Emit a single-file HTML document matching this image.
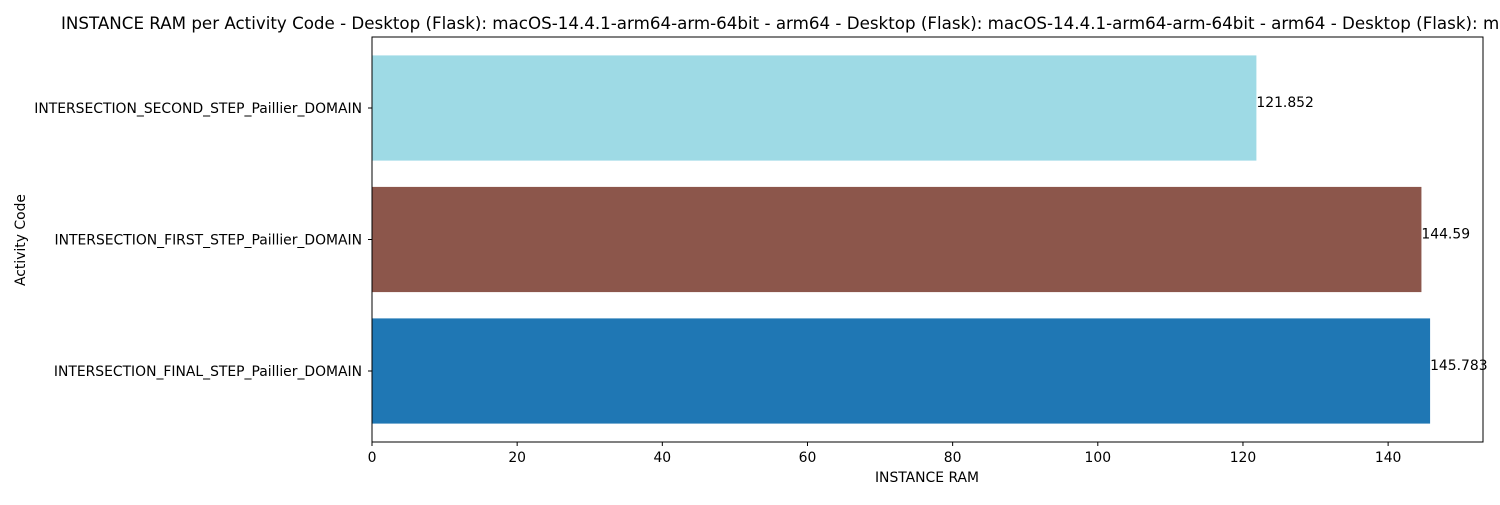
<!DOCTYPE html>
<html><head><meta charset="utf-8"><style>
body{margin:0;background:#fff;}
svg text{font-family:"DejaVu Sans","Liberation Sans",sans-serif;}
</style></head><body>
<svg width="1500" height="500" xmlns="http://www.w3.org/2000/svg">
<rect width="1500" height="500" fill="#fff"/>
<text x="61" y="29" font-size="16.7">INSTANCE RAM per Activity Code - Desktop (Flask): macOS-14.4.1-arm64-arm-64bit - arm64 - Desktop (Flask): macOS-14.4.1-arm64-arm-64bit - arm64 - Desktop (Flask): macOS-14.4.1-arm64-arm-64bit - arm64</text>
<g id="plot"></g>
<rect x="372" y="37" width="1111" height="405" fill="none" stroke="#000" stroke-width="1"/>
<text x="927" y="482" font-size="13.9" text-anchor="middle">INSTANCE RAM</text>
<text transform="translate(25,240) rotate(-90)" font-size="13.9" text-anchor="middle">Activity Code</text>
</svg>
<script>
const categories=["INTERSECTION_FINAL_STEP_Paillier_DOMAIN","INTERSECTION_FIRST_STEP_Paillier_DOMAIN","INTERSECTION_SECOND_STEP_Paillier_DOMAIN"];
const values=[145.783,144.59,121.852];
const colors=["#1f77b4","#8c564b","#9edae5"];
const xTicks=[0,20,40,60,80,100,120,140];
const L=372,R=1483,T=37,B=442;
const xMax=Math.max(...values)*1.05;
const xs=v=>L+v/xMax*(R-L);
const n=categories.length;
const yPos=v=>B-(v-(-0.4-0.05*(n-1+0.8)))/((n-1+0.8)*1.1)*(B-T);
const g=document.getElementById('plot');
const NS="http://www.w3.org/2000/svg";
function mk(t,a){const e=document.createElementNS(NS,t);for(const k in a)e.setAttribute(k,a[k]);g.appendChild(e);return e;}
values.forEach((v,i)=>{
 const y0=yPos(i+0.4),y1=yPos(i-0.4);
 const r=mk('rect',{x:L,y:y0,width:xs(v)-L,height:y1-y0,fill:colors[i]});
 
 
 const t=mk('text',{x:xs(v),y:yPos(i)-1,'font-size':13.9});
 t.textContent=String(v);
 
 
 mk('line',{x1:L-4,x2:L,y1:yPos(i),y2:yPos(i),stroke:'#000'});
 const c=mk('text',{x:L-10,y:yPos(i)+5,'font-size':13.9,'text-anchor':'end'});
 c.textContent=categories[i];
 
 
});
xTicks.forEach(v=>{
 mk('line',{x1:xs(v),x2:xs(v),y1:B,y2:B+4,stroke:'#000'});
 const t=mk('text',{x:xs(v),y:B+20,'font-size':13.9,'text-anchor':'middle'});
 t.textContent=v;
 
 
});
</script>
</body></html>
